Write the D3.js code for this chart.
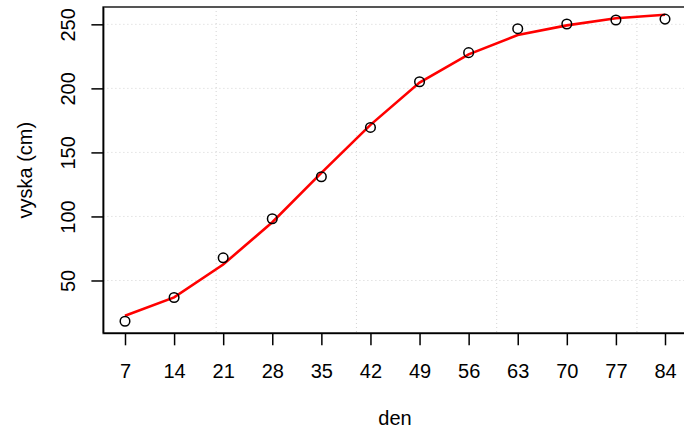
<!DOCTYPE html>
<html>
<head>
<meta charset="utf-8">
<script src="https://cdn.jsdelivr.net/npm/d3@7"></script>
<style>
  body { margin: 0; background: #fff; }
  svg { display: block; font-family: "Liberation Sans", Arial, sans-serif; }
</style>
</head>
<body>
<svg width="684" height="428"></svg>
<script>
// days and measured height, plus the fitted curve
const den = [7, 14, 21, 28, 35, 42, 49, 56, 63, 70, 77, 84];
const vyska = [18.2, 36.7, 67.7, 98.2, 131.0, 169.5, 205.2, 227.9, 246.6, 250.3, 253.4, 254.1];
const fit = [22.5, 36.8, 62.5, 95.5, 134.0, 171.5, 204.5, 226.6, 241.6, 249.2, 254.7, 257.5];
const yTicks = [50, 100, 150, 200, 250];
const gridX = [20, 40, 60, 80];

const svg = d3.select("svg");
const pLeft = 103.4, pRight = 686.6, pTop = 7, pBottom = 333.3;
const fs = 20;

// R style 4% range extension
function extend(ext) {
  const d = (ext[1] - ext[0]) * 0.04;
  return [ext[0] - d, ext[1] + d];
}

const x = d3.scaleLinear().domain(extend(d3.extent(den))).range([pLeft, pRight]);
const y = d3.scaleLinear().domain(extend(d3.extent(vyska))).range([pBottom, pTop]);

// grid
const grid = svg.append("g")
  .attr("stroke", "#d3d3d3")
  .attr("stroke-width", 1)
  .attr("stroke-dasharray", "1,3");
grid.selectAll("line.h").data(yTicks).enter().append("line")
  .attr("x1", pLeft).attr("x2", pRight)
  .attr("y1", (d) => y(d)).attr("y2", (d) => y(d));
grid.selectAll("line.v").data(gridX).enter().append("line")
  .attr("y1", pTop).attr("y2", pBottom)
  .attr("x1", (d) => x(d)).attr("x2", (d) => x(d));

// box
svg.append("rect")
  .attr("x", pLeft).attr("y", pTop)
  .attr("width", pRight - pLeft).attr("height", pBottom - pTop)
  .attr("fill", "none").attr("stroke", "#555").attr("stroke-width", 2);

// axes
const xAxis = svg.append("g")
  .attr("transform", `translate(0,${pBottom})`)
  .call(d3.axisBottom(x).tickValues(den).tickSize(12).tickSizeOuter(0).tickPadding(19));
const yAxis = svg.append("g")
  .attr("transform", `translate(${pLeft},0)`)
  .call(d3.axisLeft(y).tickValues(yTicks).tickSize(12).tickSizeOuter(0));

[xAxis, yAxis].forEach((g) => {
  g.select(".domain").attr("stroke", "#000").attr("stroke-width", 1.5);
  g.selectAll(".tick line").attr("stroke", "#000").attr("stroke-width", 1.5);
  g.selectAll("text").attr("fill", "#000").attr("font-size", fs)
    .attr("font-family", "Liberation Sans, Arial, sans-serif");
});
xAxis.select(".domain").attr("d", `M${pLeft},0H${pRight}`);
yAxis.select(".domain").attr("d", `M0,${pTop}V${pBottom}`);

yAxis.selectAll(".tick text")
  .attr("transform", "rotate(-90)")
  .attr("x", 0).attr("y", -35)
  .attr("dy", "0.35em")
  .attr("text-anchor", "middle");

// fitted line
svg.append("path")
  .datum(den.map((d, i) => [d, fit[i]]))
  .attr("fill", "none")
  .attr("stroke", "#ff0000")
  .attr("stroke-width", 2.6)
  .attr("d", d3.line().x((d) => x(d[0])).y((d) => y(d[1])));

// observed points
svg.append("g").selectAll("circle")
  .data(den.map((d, i) => [d, vyska[i]]))
  .enter().append("circle")
  .attr("cx", (d) => x(d[0])).attr("cy", (d) => y(d[1]))
  .attr("r", 4.8)
  .attr("fill", "none").attr("stroke", "#000").attr("stroke-width", 1.5);

// axis titles
svg.append("text")
  .attr("x", (pLeft + pRight) / 2).attr("y", 425)
  .attr("text-anchor", "middle").attr("font-size", fs)
  .text("den");
svg.append("text")
  .attr("transform", `translate(25,${(pTop + pBottom) / 2}) rotate(-90)`)
  .attr("text-anchor", "middle").attr("dy", "0.35em").attr("font-size", fs)
  .text("vyska (cm)");
</script>
</body>
</html>
